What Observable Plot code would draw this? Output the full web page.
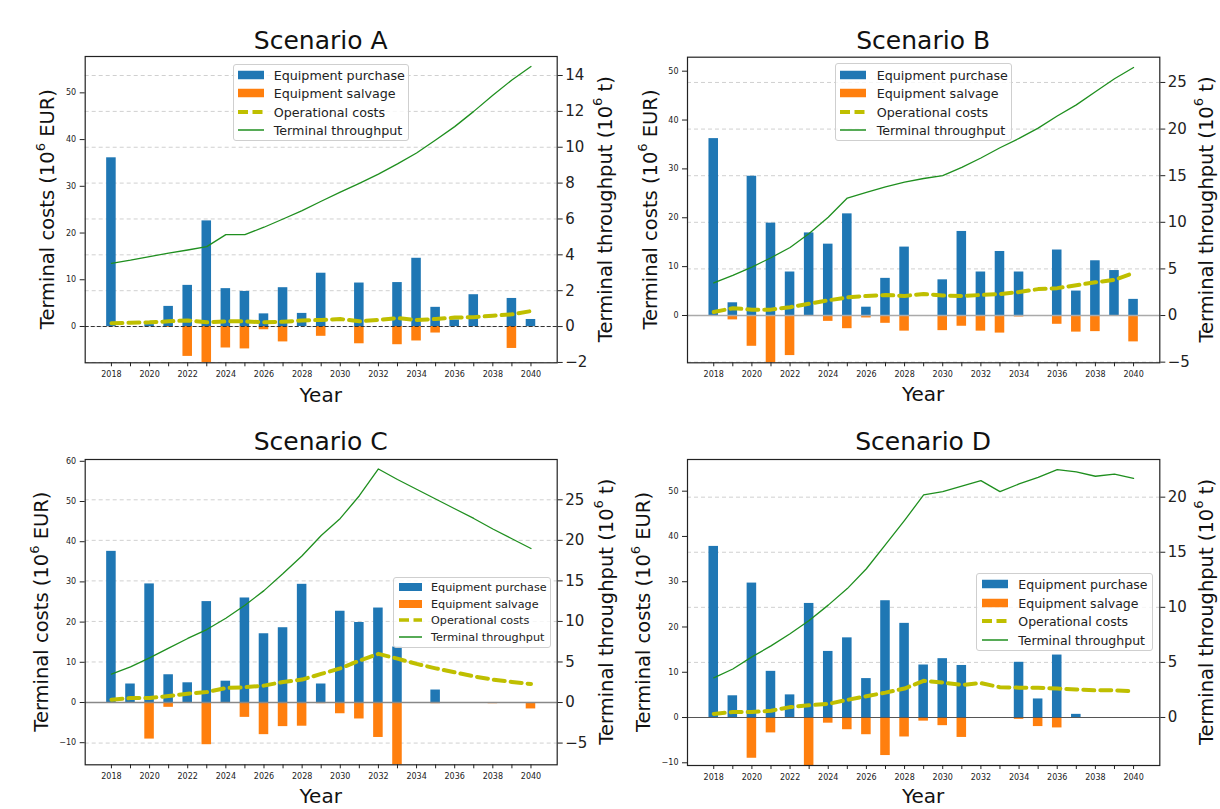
<!DOCTYPE html>
<html><head><meta charset="utf-8">
<script src="https://cdn.jsdelivr.net/npm/d3@7"></script>
<script src="https://cdn.jsdelivr.net/npm/@observablehq/plot@0.6"></script>
<style>
body{margin:0;background:#fff;font-family:"DejaVu Sans",sans-serif;}
#root{position:relative;width:1220px;height:809px;overflow:hidden;background:#fff;}
.layer{position:absolute;}
.legend{position:absolute;border:1px solid #cfcfcf;border-radius:3px;background:rgba(255,255,255,0.8);box-sizing:border-box;color:#222;font-family:"DejaVu Sans",sans-serif;}
.lrow{position:absolute;left:0;right:0;}
.lrow span{position:absolute;white-space:nowrap;transform:translateY(-50%);}
.lrow svg{position:absolute;transform:translateY(-50%);}
</style></head><body><div id="root"></div>
<script>
// ---------------- data ----------------
const years = [2018,2019,2020,2021,2022,2023,2024,2025,2026,2027,2028,2029,2030,2031,2032,2033,2034,2035,2036,2037,2038,2039,2040];

const purchaseA = [36.1,0,0.4,4.3,8.8,22.6,8.1,7.5,2.7,8.3,2.8,11.4,0,9.3,0,9.4,14.6,4.1,1.4,6.8,0,6.0,1.5];
const salvageA  = [0,0,0,-0.2,-6.4,-8.5,-4.6,-4.8,-0.7,-3.3,0,-2.1,0,-3.7,0,-3.9,-3.1,-1.4,0,0,0,-4.7,0];
const opA       = [0.7,0.8,0.9,1.1,1.3,0.9,1.1,1.1,0.9,1.0,1.3,1.4,1.6,1.1,1.4,1.8,1.4,1.6,1.9,2.0,2.3,2.6,3.3];
const thrA      = [3.53,3.7,3.9,4.1,4.27,4.46,5.13,5.13,5.54,6.0,6.47,6.99,7.5,7.99,8.5,9.07,9.68,10.4,11.15,12.0,12.9,13.75,14.5];

const purchaseB = [36.2,2.6,28.5,18.9,8.9,16.9,14.6,20.8,1.7,7.6,14.0,0,7.3,17.2,8.9,13.1,8.9,0,13.4,5.0,11.2,9.2,3.3];
const salvageB  = [0,-0.9,-6.3,-10.2,-8.2,0,-1.2,-2.7,-0.5,-1.6,-3.2,0,-3.1,-2.2,-3.2,-3.6,-0.3,0,-1.8,-3.4,-3.3,0,-5.4];
const opB       = [0.7,1.5,1.2,1.2,1.7,2.4,3.1,3.7,4.0,4.2,4.0,4.4,4.1,4.0,4.2,4.4,4.8,5.4,5.6,6.2,6.8,7.3,8.7];
const thrB      = [3.5,4.3,5.2,6.2,7.3,8.8,10.55,12.6,13.2,13.8,14.3,14.7,15.0,15.9,16.9,18.0,19.0,20.1,21.4,22.6,24.0,25.4,26.6];

const purchaseC = [37.6,4.6,29.5,6.9,4.9,25.1,5.3,26.0,17.1,18.6,29.4,4.6,22.7,19.9,23.5,13.8,0,3.1,0,0,0,0,0];
const salvageC  = [0,0,-9.1,-1.2,0,-10.5,0,-3.7,-8.0,-6.0,-5.9,-0.3,-2.8,-4.1,-8.7,-16.5,0,-0.3,0,0,-0.3,0,-1.6];
const opC       = [0.7,1.1,1.1,1.6,2.2,2.6,3.6,3.8,4.2,5.1,5.7,7.1,8.5,10.4,12.1,10.9,9.6,8.5,7.5,6.5,5.7,5.1,4.6];
const thrC      = [3.5,4.4,5.5,6.7,7.9,9.0,10.4,12.0,13.8,15.9,18.1,20.6,22.7,25.5,28.8,27.5,26.3,25.1,23.9,22.7,21.4,20.2,19.0];

const purchaseD = [37.8,4.8,29.7,10.2,5.0,25.2,14.6,17.6,8.6,25.8,20.8,11.6,13.0,11.5,0,0,12.2,4.1,13.8,0.7,0,0,0];
const salvageD  = [0,0,-9.0,-3.4,0,-10.8,-1.25,-2.7,-3.8,-8.4,-4.3,-0.8,-1.8,-4.4,0,0,-0.4,-2.0,-2.3,0,0,0,0];
const opD       = [0.8,1.2,1.2,1.5,2.3,2.7,3.0,3.9,4.7,5.5,6.4,8.1,7.7,7.2,7.6,6.7,6.6,6.6,6.4,6.2,6.0,6.0,5.8];
const thrD      = [3.6,4.4,5.5,6.5,7.6,8.8,10.2,11.7,13.5,15.7,17.9,20.2,20.5,21.0,21.5,20.5,21.2,21.8,22.5,22.3,21.9,22.1,21.7];

const titles = ["Scenario A","Scenario B","Scenario C","Scenario D"];
const legendLabels = ["Equipment purchase","Equipment salvage","Operational costs","Terminal throughput"];
const leftTicksA = [0,10,20,30,40,50];
const rightTicksA = [-2,0,2,4,6,8,10,12,14];
const leftTicksB = [0,10,20,30,40,50];
const rightTicksB = [-5,0,5,10,15,20,25];
const leftTicksC = [-10,0,10,20,30,40,50,60];
const rightTicksC = [-5,0,5,10,15,20,25];
const leftTicksD = [-10,0,10,20,30,40,50];
const rightTicksD = [0,5,10,15,20];

// ---------------- styles / layout ----------------
const C_PURCHASE = "#1f77b4", C_SALVAGE = "#ff7f0e", C_OP = "#bfbf00", C_THR = "#1f8f1f";
const xDomain = [2016.625, 2041.375];

const panels = [
  {title:titles[0], purchase:purchaseA, salvage:salvageA, op:opA, thr:thrA, lt:leftTicksA, rt:rightTicksA,
   left:0, top:0, ml:84.7, mr:53.3, mt:56, mb:37.7, yL:[-7.77,57.78], yR:[-2.02,15.06],
   zero:{stroke:"#333", dash:"4,2", w:1.1},
   titleY:48.5, yearY:402, lLabX:47.5, rLabX:605,
   leg:{x:233, y:63.5, w:176, h:77.5, c0:10, rowH:18.6, po:3.7, sw:26, to:39.7, fs:12.7}},
  {title:titles[1], purchase:purchaseB, salvage:salvageB, op:opB, thr:thrB, lt:leftTicksB, rt:rightTicksB,
   left:610, top:0, ml:77, mr:60.7, mt:56.7, mb:37.7, yL:[-9.68,52.86], yR:[-5.07,27.71],
   zero:{stroke:"#aaa", dash:null, w:1.6},
   titleY:49, yearY:401, lLabX:650, rLabX:1206,
   leg:{x:835, y:63.3, w:177, h:77.5, c0:10.3, rowH:18.6, po:4.3, sw:26, to:40.7, fs:12.7}},
  {title:titles[2], purchase:purchaseC, salvage:salvageC, op:opC, thr:thrC, lt:leftTicksC, rt:rightTicksC,
   left:0, top:405, ml:84.7, mr:53.3, mt:54, mb:40.7, yL:[-15.5,60.45], yR:[-7.68,29.97],
   zero:{stroke:"#888", dash:null, w:1.6},
   titleY:450, yearY:803, lLabX:41.5, rLabX:606,
   leg:{x:393.3, y:576.7, w:157.5, h:71, c0:9.3, rowH:16.7, po:4.4, sw:23, to:36.7, fs:11.2}},
  {title:titles[3], purchase:purchaseD, salvage:salvageD, op:opD, thr:thrD, lt:leftTicksD, rt:rightTicksD,
   left:610, top:405, ml:77, mr:60.7, mt:54, mb:40, yL:[-10.6,57.0], yR:[-4.36,23.42],
   zero:{stroke:"#555", dash:null, w:1.2},
   titleY:450, yearY:803, lLabX:643, rLabX:1206,
   leg:{x:976, y:572.7, w:176.7, h:78.3, c0:10.3, rowH:18.6, po:4.7, sw:26, to:41.3, fs:12.5}}
];

const root = document.getElementById("root");
const W = 610, H = 400;

function place(el, x, y) {
  const d = document.createElement("div");
  d.className = "layer";
  d.style.left = x + "px"; d.style.top = y + "px";
  d.appendChild(el);
  root.appendChild(d);
}

function makePanel(s) {
  const data = years.map((yr, i) => ({year: yr, purchase: s.purchase[i], salvage: s.salvage[i], op: s.op[i], thr: s.thr[i]}));
  const base = {width: W, height: H, marginLeft: s.ml, marginRight: s.mr, marginTop: s.mt, marginBottom: s.mb};
  const st = (fs) => ({background: "transparent", overflow: "visible", fontFamily: "DejaVu Sans", fontSize: fs, color: "#222"});

  // grid layer (right scale)
  const grid = Plot.plot({...base, style: st("10px"),
    x: {domain: xDomain, axis: null},
    y: {domain: s.yR, axis: null},
    marks: [Plot.gridY({ticks: s.rt, stroke: "#d0d0d0", strokeOpacity: 1, strokeDasharray: "4,3", strokeWidth: 1})]
  });

  // bars + operational costs + left axis + x axis (left scale)
  const bars = Plot.plot({...base, style: st("8px"),
    x: {domain: xDomain, axis: null},
    y: {domain: s.yL, axis: null},
    marks: [
      Plot.rect(data, {x1: d => d.year - 0.25, x2: d => d.year + 0.25, y1: 0, y2: "purchase", fill: C_PURCHASE, clip: true}),
      Plot.rect(data, {x1: d => d.year - 0.25, x2: d => d.year + 0.25, y1: 0, y2: "salvage", fill: C_SALVAGE, clip: true}),
      Plot.ruleY([0], {stroke: s.zero.stroke, strokeWidth: s.zero.w, strokeDasharray: s.zero.dash}),
      Plot.line(data, {x: "year", y: "op", stroke: C_OP, strokeWidth: 4, strokeDasharray: "11,6"}),
      Plot.axisY({anchor: "left", ticks: s.lt, tickSize: 5, tickPadding: 4, label: null, stroke: "#222"}),
      Plot.axisX({anchor: "bottom", ticks: years, tickFormat: d => (d % 2 === 0 ? String(d) : ""), tickSize: 4, tickPadding: 5, label: null, stroke: "#222"})
    ]
  });

  // throughput line + right axis + frame (right scale)
  const line = Plot.plot({...base, style: st("15px"),
    x: {domain: xDomain, axis: null},
    y: {domain: s.yR, axis: null},
    marks: [
      Plot.line(data, {x: "year", y: "thr", stroke: C_THR, strokeWidth: 1.3}),
      Plot.axisY({anchor: "right", ticks: s.rt, tickSize: 5, tickPadding: 3, label: null, stroke: "#222"}),
      Plot.frame({stroke: "#222", strokeWidth: 1.2})
    ]
  });

  place(grid, s.left, s.top);
  place(bars, s.left, s.top);
  place(line, s.left, s.top);

  // legend
  const L = s.leg;
  const box = document.createElement("div");
  box.className = "legend";
  Object.assign(box.style, {left: L.x + "px", top: L.y + "px", width: L.w + "px", height: L.h + "px", fontSize: L.fs + "px"});
  legendLabels.forEach((lab, i) => {
    const row = document.createElement("div");
    row.className = "lrow";
    row.style.top = (L.c0 + i * L.rowH) + "px";
    const ph = Math.round(L.fs * 0.7);
    let sw;
    if (i < 2) {
      sw = `<svg width="${L.sw}" height="${ph}" style="left:${L.po}px"><rect width="${L.sw}" height="${ph}" fill="${i === 0 ? C_PURCHASE : C_SALVAGE}"/></svg>`;
    } else if (i === 2) {
      sw = `<svg width="${L.sw}" height="8" style="left:${L.po}px"><line x1="0" x2="${L.sw}" y1="4" y2="4" stroke="${C_OP}" stroke-width="${L.fs > 12 ? 4 : 3.5}" stroke-dasharray="10,4.5"/></svg>`;
    } else {
      sw = `<svg width="${L.sw}" height="4" style="left:${L.po}px"><line x1="0" x2="${L.sw}" y1="2" y2="2" stroke="${C_THR}" stroke-width="1.5"/></svg>`;
    }
    row.innerHTML = sw + `<span style="left:${L.to}px">${lab}</span>`;
    box.appendChild(row);
  });
  root.appendChild(box);
}

panels.forEach(makePanel);

// text layer: titles and axis labels
const ns = "http://www.w3.org/2000/svg";
const tsvg = document.createElementNS(ns, "svg");
tsvg.setAttribute("width", 1220); tsvg.setAttribute("height", 809);
tsvg.style.position = "absolute"; tsvg.style.left = "0"; tsvg.style.top = "0"; tsvg.style.pointerEvents = "none";
tsvg.style.fontFamily = "DejaVu Sans";
let html = "";
panels.forEach(s => {
  const fx0 = s.left + s.ml, fx1 = s.left + W - s.mr;
  const fy0 = s.top + s.mt, fy1 = s.top + H - s.mb;
  const cx = (fx0 + fx1) / 2, cy = (fy0 + fy1) / 2;
  html += `<text x="${cx}" y="${s.titleY}" text-anchor="middle" font-size="25" fill="#111">${s.title}</text>`;
  html += `<text x="${cx}" y="${s.yearY}" text-anchor="middle" font-size="20" fill="#111">Year</text>`;
  html += `<text transform="translate(${s.lLabX},${cy}) rotate(-90)" text-anchor="middle" dominant-baseline="central" font-size="19.5" fill="#111">Terminal costs (10<tspan baseline-shift="super" font-size="13">6</tspan> EUR)</text>`;
  html += `<text transform="translate(${s.rLabX},${cy}) rotate(-90)" text-anchor="middle" dominant-baseline="central" font-size="19.5" fill="#111">Terminal throughput (10<tspan baseline-shift="super" font-size="13">6</tspan> t)</text>`;
});
tsvg.innerHTML = html;
root.appendChild(tsvg);
</script>
</body></html>
